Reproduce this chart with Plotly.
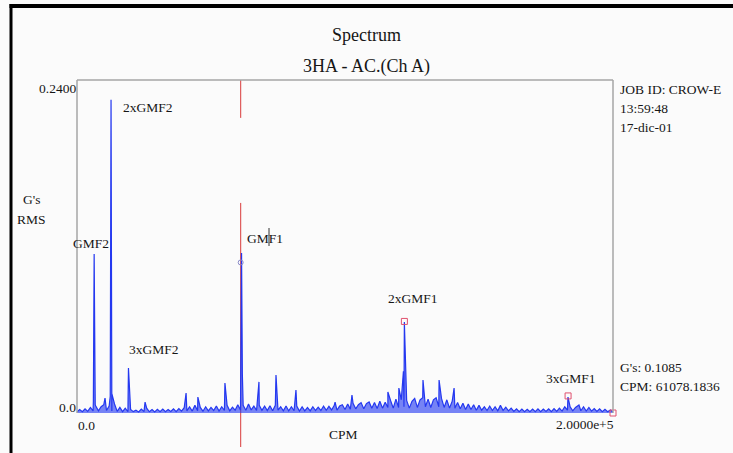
import plotly.graph_objects as go

# ---------------- data ----------------
cpm_step = 1000  # spacing of the noise-floor samples (CPM)
# noise floor, milli-G RMS, one value every 1000 CPM from 0 to 200000
noise_floor_mg = [
    0.8, 2.5, 0.9, 3.0, 1.2, 4.0, 1.5, 5.0, 1.6, 4.5,
    6.0, 1.8, 5.0, 1.5, 6.5, 1.2, 4.0, 1.0, 3.5, 0.9,
    2.5, 1.0, 2.0, 0.8, 2.8, 1.0, 3.5, 0.9, 2.5, 0.8,
    2.6, 1.0, 2.8, 0.9, 2.5, 1.1, 3.0, 1.0, 3.2, 1.3,
    3.8,
    1.5, 4.5, 1.4, 5.5, 1.6, 4.0, 1.3, 4.5,
    1.5, 4.0, 1.8, 5.0, 1.4, 4.5, 1.8, 5.5, 1.6, 4.2, 2.0,
    6.0, 2.2, 5.5, 2.0, 6.5, 2.2, 5.0, 1.8, 5.5, 2.0,
    5.0, 1.8, 5.2, 1.6, 5.5, 2.0, 4.5, 1.6, 5.0, 1.5,
    4.5, 1.6, 5.0, 1.4, 4.5, 1.5,
    4.0, 1.5, 4.5, 1.8,
    4.2, 1.8, 5.0, 2.0, 4.8, 2.2, 5.5, 2.0, 5.0, 6.0,
    2.5, 6.5, 2.8, 7.0, 3.0, 6.0, 7.5, 3.0, 6.8, 8.0,
    3.5, 7.5, 3.2, 8.5, 3.5, 7.8,
    4.0, 9.0, 3.5, 10.0,
    4.0, 9.5, 4.5, 9.0, 3.5, 8.5, 10.5, 4.0, 9.5, 11.0,
    4.5, 10.0, 4.0, 9.5, 11.0, 4.5, 10.5, 4.0, 9.5, 3.5,
    8.5,
    3.5, 7.5, 3.0, 7.0, 2.5, 6.5, 2.5, 6.0, 2.0, 5.5,
    2.0, 4.5, 1.8, 5.0, 1.8, 4.5, 1.6, 5.5, 1.8,
    4.2, 1.5, 3.5, 1.2, 3.0, 1.0, 2.8, 1.0, 2.6, 0.9,
    2.8, 1.0, 3.0, 1.0, 2.8, 1.1, 3.0, 1.0, 3.2, 1.2,
    3.5, 1.4, 4.5, 2.0, 4.5, 1.6, 4.0, 5.5, 1.6, 4.5,
    1.4, 4.0, 1.3, 3.2, 1.2, 3.0, 1.0, 2.6, 0.9, 2.2,
    0.8,
]

# discrete spectral lines and their narrow bases (CPM, G's RMS)
peak_cpm = [6100, 6400, 6600, 6800, 10450, 12400, 12700, 13000, 19200, 19800,
            25400, 40700, 45100, 55200, 61100, 61400, 61700, 67900, 74250,
            81700, 96300, 102600, 116000, 120100, 121800, 122150, 122500,
            122800, 129100, 135100, 140700, 183200, 187300]
peak_gs = [0.008, 0.1146, 0.024, 0.006, 0.0108, 0.012, 0.2257, 0.014, 0.0324,
           0.014, 0.0079, 0.0144, 0.0115, 0.0216, 0.030, 0.1154, 0.028,
           0.0224, 0.0274, 0.0166, 0.0079, 0.013, 0.0151, 0.018, 0.030,
           0.0656, 0.045, 0.012, 0.0238, 0.0238, 0.018, 0.0115, 0.0058]

cursor_cpm = 61078.1836
cursor_gs = 0.1085
harmonic_cpm = [122156.4, 183234.6, 200000.0]
harmonic_gs = [0.0660, 0.0123, 0.0]

x_max = 200000
y_top = 0.24
y_labels = ["0.2400", "0.0"]
x_labels = ["0.0", "2.0000e+5"]
peak_labels = ["2xGMF2", "GMF2", "GMF1", "3xGMF2", "2xGMF1", "3xGMF1"]
info_lines = ["JOB ID: CROW-E", "13:59:48", "17-dic-01"]

# ---------------- build the line ----------------
pts = [(i * cpm_step, v / 1000.0) for i, v in enumerate(noise_floor_mg)]
pts += list(zip(peak_cpm, peak_gs))
pts.sort()
xs = [p[0] for p in pts]
ys = [p[1] for p in pts]

# ---------------- geometry (pixels) ----------------
W, H = 733, 453
L, R, T, B = 77, 613, 80, 447
BASE = 413
y_low = -y_top * (B - BASE) / (BASE - T)

def fx(px):
    return (px - L) / (R - L)

def fy(py):
    return (B - py) / (B - T)

FONT = "Liberation Serif"
TXT = "#161616"
BLUE = "#2438f0"
RED = "#d83a3a"
PINK = "#e0506e"
GREY = "#a6a6a6"

fig = go.Figure()

# red cursor line
fig.add_trace(go.Scatter(
    x=[cursor_cpm, cursor_cpm, None, cursor_cpm, cursor_cpm],
    y=[y_top, y_top - 0.0273, None, 0.1514, y_low],
    mode="lines", line=dict(color=RED, width=1), hoverinfo="skip"))

# spectrum
fig.add_trace(go.Scatter(x=xs, y=ys, mode="lines", fill="tozeroy",
                         fillcolor="rgba(36,56,240,0.62)",
                         line=dict(color=BLUE, width=1.2), hoverinfo="skip"))

# cursor marker
fig.add_trace(go.Scatter(x=[cursor_cpm], y=[cursor_gs], mode="markers",
                         marker=dict(symbol="circle-open", size=5,
                                     color="#8a8ac8", line=dict(width=1)),
                         cliponaxis=False, hoverinfo="skip"))
# harmonic markers
fig.add_trace(go.Scatter(x=harmonic_cpm, y=harmonic_gs, mode="markers",
                         marker=dict(symbol="square-open", size=6,
                                     color=PINK, line=dict(width=1)),
                         cliponaxis=False, hoverinfo="skip"))

shapes = []
# plot frame (left, right, top)
for x0, y0, x1, y1 in [(fx(L), fy(BASE), fx(L), fy(T)),
                       (fx(R), fy(BASE), fx(R), fy(T)),
                       (fx(L), fy(T), fx(R), fy(T))]:
    shapes.append(dict(type="line", xref="paper", yref="paper",
                       x0=x0, y0=y0, x1=x1, y1=y1,
                       line=dict(color=GREY, width=1.5)))
# outer black border
shapes.append(dict(type="line", xref="paper", yref="paper",
                   x0=fx(11), y0=fy(4), x1=fx(11), y1=fy(455),
                   line=dict(color="#000000", width=3)))
shapes.append(dict(type="line", xref="paper", yref="paper",
                   x0=fx(9.5), y0=fy(6), x1=fx(735), y1=fy(6),
                   line=dict(color="#000000", width=4)))
# small cursor tick through "GMF1"
shapes.append(dict(type="line", xref="paper", yref="paper",
                   x0=fx(269), y0=fy(228), x1=fx(269), y1=fy(246),
                   line=dict(color="#333333", width=1)))

ann = []

def text(s, px, py, anchor="left", size=13.5):
    ann.append(dict(text=s, xref="paper", yref="paper", x=fx(px), y=fy(py),
                    xanchor=anchor, yanchor="middle", showarrow=False,
                    borderpad=0, font=dict(family=FONT, size=size, color=TXT)))

text("Spectrum", 366.5, 35, "center", 18)
text("3HA - AC.(Ch A)", 366.5, 66, "center", 18)
text(y_labels[0], 77, 88, "right")
text(y_labels[1], 77, 407, "right")
text(x_labels[0], 77, 425, "left")
text(x_labels[1], 615, 424, "right")
text("CPM", 343, 434, "center")
text("G's", 31, 199, "center")
text("RMS", 31, 219, "center")
text(peak_labels[0], 122, 107, "left")
text(peak_labels[1], 72, 243, "left")
text(peak_labels[2], 246, 238, "left")
text(peak_labels[3], 128, 349, "left")
text(peak_labels[4], 387, 298, "left")
text(peak_labels[5], 545, 378, "left")
for k, s in enumerate(info_lines):
    text(s, 619, [90, 108, 127][k], "left")
text(f"G's: {cursor_gs:.4f}", 619, 367, "left")
text(f"CPM: {cursor_cpm:.4f}", 619, 386, "left")

fig.update_layout(
    width=W, height=H, autosize=False,
    margin=dict(l=L, r=W - R, t=T, b=H - B, pad=0),
    paper_bgcolor="#fbfbfb", plot_bgcolor="#fbfbfb",
    showlegend=False, shapes=shapes, annotations=ann,
    xaxis=dict(range=[0, x_max], visible=False, fixedrange=True),
    yaxis=dict(range=[y_low, y_top], visible=False, fixedrange=True),
)

fig.write_html("out.html", config={"displayModeBar": False})
